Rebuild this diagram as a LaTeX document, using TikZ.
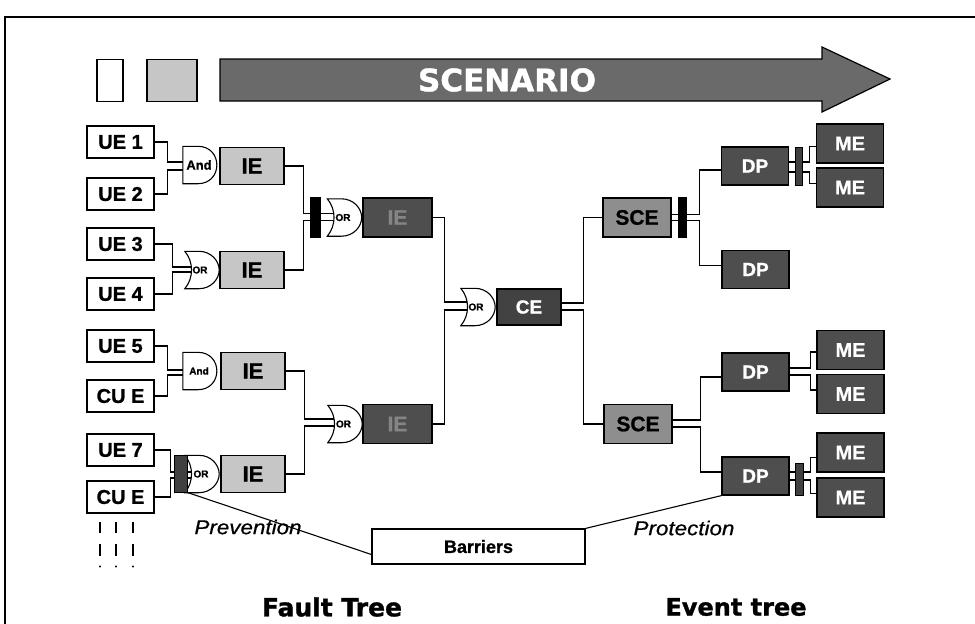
\documentclass[tikz,border=0pt]{standalone}
\usepackage{graphicx}
\usepackage{fontspec}
\setmainfont{Liberation Sans}
\newfontfamily\heavyfont{DejaVu Sans}[BoldFeatures={FakeBold=1.2}]
\newfontfamily\boxfont{Liberation Sans}[BoldFeatures={FakeBold=1}, ItalicFeatures={FakeBold=0.6}]
\usetikzlibrary{calc}
\definecolor{lightg}{HTML}{C6C6C6}
\definecolor{midg}{HTML}{8E8E8E}
\definecolor{darkg}{HTML}{4E4E4E}
\definecolor{arrowg}{HTML}{6A6A6A}
\definecolor{dimtext}{HTML}{858585}
\pgfdeclarelayer{wires}\pgfdeclarelayer{gates}
\pgfsetlayers{wires,gates,main}
\newcommand\fs[1]{\fontsize{#1}{#1}\selectfont}
\tikzset{
 box/.style={draw, line width=1.2pt, inner sep=0pt},
 uebox/.style={box, fill=white, minimum width=67pt, minimum height=32pt, font=\boxfont\bfseries\fs{20}},
 iebox/.style={box, fill=lightg, minimum width=64pt, minimum height=37pt, font=\boxfont\bfseries\fs{22}},
 iedark/.style={box, fill=darkg, text=dimtext, minimum width=69pt, minimum height=39pt, font=\boxfont\bfseries\fs{21}},
 cebox/.style={box, fill=darkg!85!black, text=white, minimum width=64pt, minimum height=36pt, font=\boxfont\bfseries\fs{19}},
 scebox/.style={box, fill=midg, minimum width=68pt, minimum height=39pt, font=\boxfont\bfseries\fs{21}},
 dpbox/.style={box, fill=darkg, text=white, minimum width=67pt, minimum height=38pt, font=\boxfont\bfseries\fs{19}},
 mebox/.style={box, fill=darkg, text=white, minimum width=67pt, minimum height=39pt, font=\boxfont\bfseries\fs{20}},
 gatenode/.style={inner sep=0pt, minimum width=34pt, minimum height=37pt},
 gatelabel/.style={inner sep=0pt, font=\boxfont\bfseries\fs{10}},
 gateline/.style={draw, line width=1.1pt, fill=white},
 wire/.style={line width=1.2pt},
 barblack/.style={fill=black, draw=black, line width=0.8pt, inner sep=0pt},
 bardark/.style={fill=black!75, draw=black, line width=1pt, inner sep=0pt},
}
\newcommand\andshape[1]{\path[gateline] (#1.north west) -- ($(#1.north west)+(15,0)$) .. controls ($(#1.north east)+(6,0)$) and ($(#1.south east)+(6,0)$) .. ($(#1.south west)+(15,0)$) -- (#1.south west) -- cycle;}
\newcommand\orshape[1]{\path[gateline] (#1.north west) -- ($(#1.north west)+(14,0)$) .. controls ($(#1.north east)+(-8,0)$) and ($(#1.east)+(0,-9)$) .. (#1.east) .. controls ($(#1.east)+(0,9)$) and ($(#1.south east)+(-8,0)$) .. ($(#1.south west)+(14,0)$) -- (#1.south west) .. controls ($(#1.west)+(9,8)$) and ($(#1.west)+(9,-8)$) .. (#1.north west) -- cycle;}
\begin{document}
\begin{tikzpicture}[x=1pt,y=-1pt]
\useasboundingbox (0,0) rectangle (975,624);
% frame
\draw[line width=1.2pt] (5,624) -- (5,17) -- (975,17);
% legend and scenario arrow
\node[box, fill=white, minimum width=26pt, minimum height=42pt] (legw) at (110,80.5) {};
\node[box, fill=lightg, minimum width=50pt, minimum height=42pt] (legg) at (172,80.5) {};
\path[fill=arrowg, draw=black, line width=1.2pt] (220,59) -- (822,59) -- (822,47) -- (890,79) -- (822,112) -- (822,101) -- (220,101) -- cycle;
\node[font=\heavyfont\bfseries\fs{31}, text=white] (scen) at (507,80) {SCENARIO};
% undesired events
\node[uebox] (ue1) at (120.5,142) {UE 1};
\node[uebox] (ue2) at (120.5,194) {UE 2};
\node[uebox] (ue3) at (120.5,244) {UE 3};
\node[uebox] (ue4) at (120.5,294) {UE 4};
\node[uebox] (ue5) at (120.5,346) {UE 5};
\node[uebox] (cue1) at (120.5,396) {CU E};
\node[uebox] (ue7) at (120.5,450) {UE 7};
\node[uebox] (cue2) at (120.5,497) {CU E};
% gates
\node[gatenode] (g1) at (200,165) {};
\node[gatelabel, font=\boxfont\bfseries\fs{13}] (g1l) at (199,165) {And};
\node[gatenode] (g2) at (202,270) {};
\node[gatelabel] (g2l) at (200,270) {OR};
\node[gatenode] (g3) at (200,371) {};
\node[gatelabel] (g3l) at (199,371) {And};
\node[gatenode] (g4) at (202,474) {};
\node[gatelabel] (g4l) at (201,474) {OR};
\node[gatenode] (gA) at (344.5,217.5) {};
\node[gatelabel] (gAl) at (343,217.5) {OR};
\node[gatenode] (gB) at (345,424) {};
\node[gatelabel] (gBl) at (343.5,424) {OR};
\node[gatenode] (gC) at (478,307) {};
\node[gatelabel] (gCl) at (476,307) {OR};
% intermediate events
\node[iebox] (ie1) at (252,166) {IE};
\node[iebox] (ie2) at (252,270) {IE};
\node[iebox] (ie3) at (253,371) {IE};
\node[iebox] (ie4) at (253,474) {IE};
\node[iedark] (ieA) at (397.5,217.5) {IE};
\node[iedark] (ieB) at (397.5,424) {IE};
\node[cebox] (ce) at (529,307) {CE};
% event tree
\node[scebox] (sce1) at (637,217.5) {SCE};
\node[scebox] (sce2) at (638,424) {SCE};
\node[dpbox] (dp1) at (755,166) {DP};
\node[dpbox] (dp2) at (755.5,269.5) {DP};
\node[dpbox] (dp3) at (755.5,372) {DP};
\node[dpbox] (dp4) at (755.5,476) {DP};
\node[mebox] (me1) at (850,143.5) {ME};
\node[mebox] (me2) at (850,187.5) {ME};
\node[mebox] (me3) at (850.5,350) {ME};
\node[mebox] (me4) at (850.5,394) {ME};
\node[mebox] (me5) at (850.5,452.5) {ME};
\node[mebox] (me6) at (850.5,497.5) {ME};
% barrier bars
\node[barblack, minimum width=10pt, minimum height=40pt] (barA) at (315,217) {};
\node[barblack, minimum width=8pt, minimum height=40pt] (barS) at (682,217) {};
\node[bardark, minimum width=7pt, minimum height=38pt] (barD1) at (798.5,166) {};
\node[bardark, minimum width=8pt, minimum height=32pt] (barD4) at (799,479) {};
\node[bardark, minimum width=13pt, minimum height=37pt] (bar4) at (180.5,473.5) {};
% barriers box and labels
\node[box, fill=white, minimum width=213pt, minimum height=35pt, font=\boxfont\bfseries\fs{18}] (barriers) at (478.5,546.5) {Barriers};
\node[font=\boxfont\itshape\fs{20}] (prev) at (248,527) {\scalebox{1.12}[1]{Prevention}};
\node[font=\boxfont\itshape\fs{20}] (prot) at (684,528) {\scalebox{1.12}[1]{Protection}};
\node[font=\heavyfont\bfseries\fs{25}] (ft) at (332,607) {Fault Tree};
\node[font=\heavyfont\bfseries\fs{24}] (et) at (736,607) {Event tree};
% continuation marks
\foreach \x in {100,116,133} {
  \draw[line width=2pt] (\x,522) -- (\x,533);
  \draw[line width=2pt] (\x,544) -- (\x,556);
  \fill (\x,566.5) circle (1.2pt);
}
% wires
\begin{pgfonlayer}{wires}
\draw[wire] (ue1.east) -- ++(13,0) |- ([yshift=3pt]g1.west);
\draw[wire] (ue2.east) -- ++(13,0) |- ([yshift=-5pt]g1.west);
\draw[wire] (ue3.east) -- ++(18,0) |- ([xshift=6pt,yshift=3pt]g2.west);
\draw[wire] (ue4.east) -- ++(18,0) |- ([xshift=6pt,yshift=-2pt]g2.west);
\draw[wire] (ue5.east) -- ++(13,0) |- ([yshift=1pt]g3.west);
\draw[wire] (cue1.east) -- ++(13,0) |- ([yshift=-4pt]g3.west);
\draw[wire] (ue7.east) -- ++(16,0) |- ([xshift=6pt,yshift=2pt]g4.west);
\draw[wire] (cue2.east) -- ++(16,0) |- ([xshift=6pt,yshift=-4pt]g4.west);
\draw[wire] (ie1.east) -- ++(19,0) |- ([xshift=6pt,yshift=4pt]gA.west);
\draw[wire] (ie2.east) -- ++(19,0) |- ([xshift=6pt,yshift=-3pt]gA.west);
\draw[wire] (ie3.east) -- ++(19,0) |- ([xshift=6pt,yshift=5pt]gB.west);
\draw[wire] (ie4.east) -- ++(19,0) |- ([xshift=6pt,yshift=-2pt]gB.west);
\draw[wire] (ieA.east) -- ++(12,0) |- ([xshift=6pt,yshift=5pt]gC.west);
\draw[wire] (ieB.east) -- ++(12,0) |- ([xshift=6pt,yshift=-3pt]gC.west);
\draw[wire] ([yshift=4pt]ce.east) -- ++(22,0) |- (sce1.west);
\draw[wire] ([yshift=-3pt]ce.east) -- ++(22,0) |- (sce2.west);
\draw[wire] ([yshift=3pt]sce1.east) -- ++(28,0) |- ([yshift=-4pt]dp1.west);
\draw[wire] ([yshift=-3pt]sce1.east) -- ++(28,0) |- ([yshift=4pt]dp2.west);
\draw[wire] ([yshift=4pt]sce2.east) -- ++(28,0) |- ([yshift=-5pt]dp3.west);
\draw[wire] ([yshift=-3pt]sce2.east) -- ++(28,0) |- ([yshift=4pt]dp4.west);
\draw[wire] ([yshift=4pt]dp1.east) -- ++(20,0) |- ([yshift=-3pt]me1.west);
\draw[wire] ([yshift=-6pt]dp1.east) -- ++(20,0) |- ([yshift=4pt]me2.west);
\draw[wire] ([yshift=4pt]dp3.east) -- ++(21,0) |- ([yshift=-2pt]me3.west);
\draw[wire] ([yshift=-3pt]dp3.east) -- ++(21,0) |- ([yshift=4pt]me4.west);
\draw[wire] ([yshift=4pt]dp4.east) -- ++(21,0) |- ([yshift=-5pt]me5.west);
\draw[wire] ([yshift=-4pt]dp4.east) -- ++(21,0) |- ([yshift=4pt]me6.west);
\draw[line width=1.1pt] (bar4.south east) -- ([yshift=-8pt]barriers.west);
\draw[line width=1.1pt] (barriers.north east) -- (dp4.south west);
\end{pgfonlayer}
% gate outlines
\begin{pgfonlayer}{gates}
\andshape{g1}
\orshape{g2}
\andshape{g3}
\orshape{g4}
\orshape{gA}
\orshape{gB}
\orshape{gC}
\end{pgfonlayer}
\end{tikzpicture}
\end{document}
